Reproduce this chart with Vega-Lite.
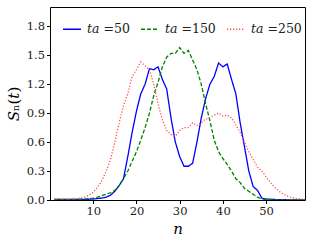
{
  "$schema": "https://vega.github.io/schema/vega-lite/v6.json",
  "autosize": "none",
  "width": 255,
  "height": 193,
  "padding": {"left": 50, "top": 7, "right": 12, "bottom": 44},
  "background": "white",
  "config": {
    "view": {"stroke": "black", "strokeWidth": 1},
    "font": "DejaVu Serif",
    "axis": {
      "grid": false,
      "domain": false,
      "tickColor": "black",
      "tickSize": 3.5,
      "labelFont": "DejaVu Serif",
      "labelFontSize": 11.5,
      "labelColor": "#222",
      "titleFont": "DejaVu Serif",
      "titleFontSize": 15,
      "titleFontWeight": "normal",
      "titleColor": "black"
    },
    "legend": {
      "labelFont": "DejaVu Serif",
      "labelFontSize": 12.5,
      "labelColor": "#222"
    }
  },
  "data": {
    "values": [
      {"n":1,"ta =50":0.005,"ta =150":0.003,"ta =250":0.012},
      {"n":2,"ta =50":0.005,"ta =150":0.003,"ta =250":0.012},
      {"n":3,"ta =50":0.005,"ta =150":0.003,"ta =250":0.012},
      {"n":4,"ta =50":0.005,"ta =150":0.004,"ta =250":0.012},
      {"n":5,"ta =50":0.005,"ta =150":0.005,"ta =250":0.012},
      {"n":6,"ta =50":0.005,"ta =150":0.006,"ta =250":0.015},
      {"n":7,"ta =50":0.006,"ta =150":0.008,"ta =250":0.02},
      {"n":8,"ta =50":0.007,"ta =150":0.01,"ta =250":0.03},
      {"n":9,"ta =50":0.008,"ta =150":0.014,"ta =250":0.05},
      {"n":10,"ta =50":0.01,"ta =150":0.02,"ta =250":0.08},
      {"n":11,"ta =50":0.015,"ta =150":0.03,"ta =250":0.13},
      {"n":12,"ta =50":0.02,"ta =150":0.045,"ta =250":0.2},
      {"n":13,"ta =50":0.03,"ta =150":0.06,"ta =250":0.3},
      {"n":14,"ta =50":0.05,"ta =150":0.075,"ta =250":0.42},
      {"n":15,"ta =50":0.09,"ta =150":0.1,"ta =250":0.6},
      {"n":16,"ta =50":0.15,"ta =150":0.15,"ta =250":0.8},
      {"n":17,"ta =50":0.22,"ta =150":0.22,"ta =250":0.98},
      {"n":18,"ta =50":0.45,"ta =150":0.3,"ta =250":1.1},
      {"n":19,"ta =50":0.7,"ta =150":0.4,"ta =250":1.28},
      {"n":20,"ta =50":0.92,"ta =150":0.5,"ta =250":1.35},
      {"n":21,"ta =50":1.1,"ta =150":0.62,"ta =250":1.43},
      {"n":22,"ta =50":1.2,"ta =150":0.75,"ta =250":1.39},
      {"n":23,"ta =50":1.36,"ta =150":0.9,"ta =250":1.35},
      {"n":24,"ta =50":1.35,"ta =150":1.08,"ta =250":1.2},
      {"n":25,"ta =50":1.38,"ta =150":1.22,"ta =250":1.0},
      {"n":26,"ta =50":1.25,"ta =150":1.38,"ta =250":0.83},
      {"n":27,"ta =50":1.15,"ta =150":1.48,"ta =250":0.72},
      {"n":28,"ta =50":0.85,"ta =150":1.52,"ta =250":0.68},
      {"n":29,"ta =50":0.6,"ta =150":1.52,"ta =250":0.66},
      {"n":30,"ta =50":0.45,"ta =150":1.58,"ta =250":0.72},
      {"n":31,"ta =50":0.35,"ta =150":1.52,"ta =250":0.75},
      {"n":32,"ta =50":0.35,"ta =150":1.55,"ta =250":0.75},
      {"n":33,"ta =50":0.38,"ta =150":1.45,"ta =250":0.8},
      {"n":34,"ta =50":0.6,"ta =150":1.35,"ta =250":0.77},
      {"n":35,"ta =50":0.85,"ta =150":1.2,"ta =250":0.8},
      {"n":36,"ta =50":1.05,"ta =150":1.0,"ta =250":0.84},
      {"n":37,"ta =50":1.2,"ta =150":0.82,"ta =250":0.85},
      {"n":38,"ta =50":1.28,"ta =150":0.62,"ta =250":0.88},
      {"n":39,"ta =50":1.42,"ta =150":0.5,"ta =250":0.9},
      {"n":40,"ta =50":1.38,"ta =150":0.43,"ta =250":0.87},
      {"n":41,"ta =50":1.41,"ta =150":0.37,"ta =250":0.88},
      {"n":42,"ta =50":1.25,"ta =150":0.3,"ta =250":0.85},
      {"n":43,"ta =50":1.1,"ta =150":0.22,"ta =250":0.78},
      {"n":44,"ta =50":0.8,"ta =150":0.18,"ta =250":0.7},
      {"n":45,"ta =50":0.55,"ta =150":0.12,"ta =250":0.6},
      {"n":46,"ta =50":0.3,"ta =150":0.09,"ta =250":0.5},
      {"n":47,"ta =50":0.14,"ta =150":0.06,"ta =250":0.42},
      {"n":48,"ta =50":0.1,"ta =150":0.03,"ta =250":0.34},
      {"n":49,"ta =50":0.02,"ta =150":0.01,"ta =250":0.3},
      {"n":50,"ta =50":0.01,"ta =150":0.005,"ta =250":0.24},
      {"n":51,"ta =50":0.008,"ta =150":0.003,"ta =250":0.18},
      {"n":52,"ta =50":0.005,"ta =150":0.002,"ta =250":0.13},
      {"n":53,"ta =50":0.004,"ta =150":0.002,"ta =250":0.09},
      {"n":54,"ta =50":0.003,"ta =150":0.001,"ta =250":0.06},
      {"n":55,"ta =50":0.002,"ta =150":0.001,"ta =250":0.04},
      {"n":56,"ta =50":0.002,"ta =150":0.001,"ta =250":0.025},
      {"n":57,"ta =50":0.001,"ta =150":0.001,"ta =250":0.015},
      {"n":58,"ta =50":0.001,"ta =150":0.001,"ta =250":0.01},
      {"n":59,"ta =50":0.001,"ta =150":0.001,"ta =250":0.005}
    ]
  },
  "transform": [
    {"fold": ["ta =50", "ta =150", "ta =250"], "as": ["ta", "S"]}
  ],
  "mark": {"type": "line", "strokeWidth": 1.3, "clip": true},
  "encoding": {
    "x": {
      "field": "n", "type": "quantitative",
      "scale": {"domain": [0, 59], "nice": false, "zero": false},
      "axis": {"values": [10, 20, 30, 40, 50], "title": "𝑛", "titlePadding": 4}
    },
    "y": {
      "field": "S", "type": "quantitative",
      "scale": {"domain": [0, 2.0], "nice": false},
      "axis": {"values": [0, 0.3, 0.6, 0.9, 1.2, 1.5, 1.8], "format": ".1f", "title": "𝑆ₙ(𝑡)", "titlePadding": 5}
    },
    "color": {
      "field": "ta", "type": "nominal",
      "scale": {"domain": ["ta =50", "ta =150", "ta =250"], "range": ["#0000ff", "#008000", "#ff4d4d"]},
      "legend": {
        "title": null,
        "orient": "none",
        "legendX": 12,
        "legendY": 12,
        "direction": "horizontal",
        "symbolType": "stroke",
        "symbolSize": 324,
        "symbolStrokeWidth": 1.5,
        "columnPadding": 8,
        "labelOffset": 5,
        "labelExpr": "replace(datum.label, 'ta', '𝑡𝑎')"
      }
    },
    "strokeDash": {
      "field": "ta", "type": "nominal",
      "scale": {"domain": ["ta =50", "ta =150", "ta =250"], "range": [[1, 0], [4, 2], [1.2, 1.8]]},
      "legend": {
        "title": null,
        "orient": "none",
        "legendX": 12,
        "legendY": 12,
        "direction": "horizontal",
        "symbolType": "stroke",
        "symbolSize": 324,
        "symbolStrokeWidth": 1.5,
        "columnPadding": 8,
        "labelOffset": 5,
        "labelExpr": "replace(datum.label, 'ta', '𝑡𝑎')"
      }
    }
  }
}
